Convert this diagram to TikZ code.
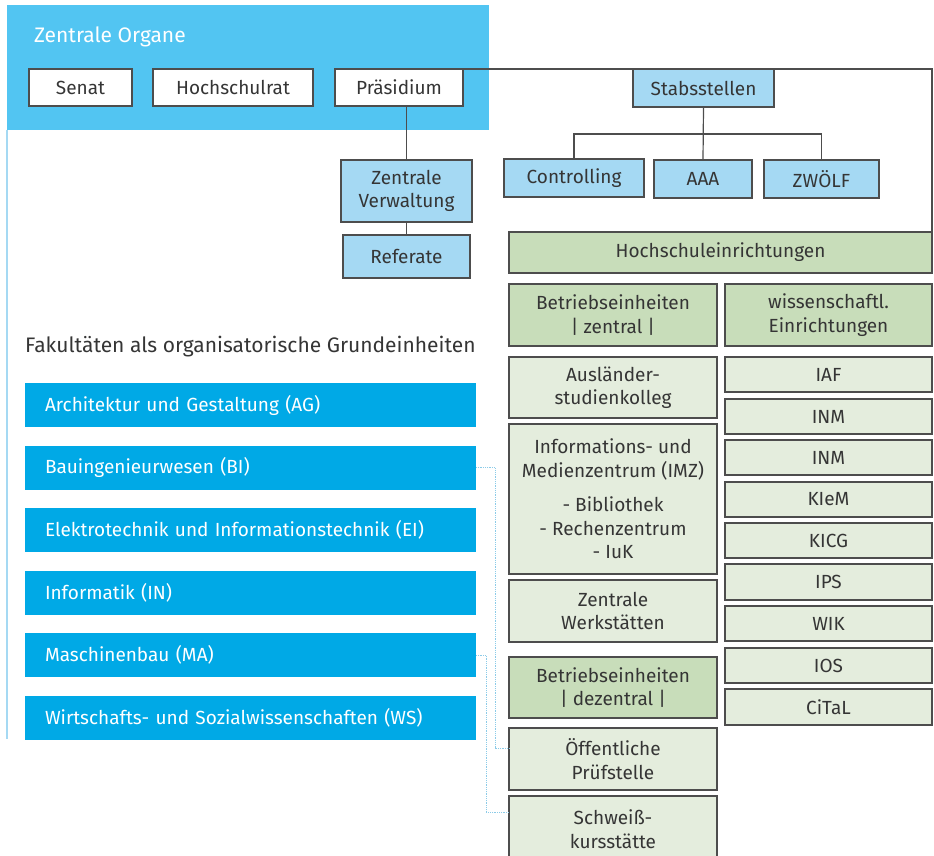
\documentclass[tikz,border=0pt]{standalone}
\usepackage{fontspec}
\setmainfont{Fira Sans}
\definecolor{panelblue}{HTML}{52C5F2}
\definecolor{facblue}{HTML}{00A9E6}
\definecolor{lightblue}{HTML}{A5D9F3}
\definecolor{greenhead}{HTML}{C8DDBA}
\definecolor{greenlight}{HTML}{E4EDDD}
\definecolor{bordergray}{HTML}{4D4D4D}
\definecolor{textgray}{HTML}{353535}
\definecolor{dotblue}{HTML}{8CCBE8}
\newcommand\bx[7]{\node[#6, minimum width={(#4-#2)*1pt}, minimum height={(#5-#3)*1pt}] (#1) at ({(#2+#4)/2},{(#3+#5)/2}) {#7};}
\tikzset{
  base/.style={rectangle, inner sep=0pt, outer sep=0pt, align=center, text=textgray, font=\fontsize{19}{23.5}\selectfont, line width=1.2pt, draw=bordergray},
  whitebox/.style={base, fill=white},
  bluebox/.style={base, fill=lightblue},
  headbox/.style={base, fill=greenhead},
  unitbox/.style={base, fill=greenlight},
  facbox/.style={rectangle, inner sep=0pt, outer sep=0pt, fill=facblue, text=white, font=\fontsize{19}{23}\selectfont},
  conn/.style={line width=1.2pt, draw=bordergray},
  dotconn/.style={line width=0.8pt, draw=dotblue, densely dotted}
}
\begin{document}
\begin{tikzpicture}[x=1pt,y=-1pt]
\useasboundingbox (0,0) rectangle (934,855);
\clip (0,0) rectangle (934,855);
% top panel
\fill[panelblue] (7,5) rectangle (489,130);
\node[anchor=west, text=white, font=\fontsize{21}{24}\selectfont, inner sep=0pt] (zo) at (34,37) {Zentrale Organe};
\draw[lightblue, line width=2pt] (7,130) -- (7,739);
% organs
\bx{senat}{29}{69}{132}{106}{whitebox}{Senat}
\bx{hsr}{153}{69}{313}{106}{whitebox}{Hochschulrat}
\bx{pras}{335}{69}{463}{106}{whitebox}{Präsidium}
\bx{zv}{341}{160}{472}{222}{bluebox}{Zentrale\\Verwaltung}
\bx{ref}{343}{235}{470}{278}{bluebox}{Referate}
% Stabsstellen
\bx{stab}{633}{69}{774}{107}{bluebox}{Stabsstellen}
\bx{ctrl}{504}{159}{644}{197}{bluebox}{Controlling}
\bx{aaa}{654}{160}{752}{198}{bluebox}{AAA}
\bx{zw}{764}{160}{879}{198}{bluebox}{ZWÖLF}
% Hochschuleinrichtungen
\bx{he}{509}{232}{932}{273}{headbox}{Hochschuleinrichtungen}
\bx{bez}{509}{284}{717}{346}{headbox}{Betriebseinheiten\\| zentral |}
\bx{we}{725}{284}{932}{346}{headbox}{wissenschaftl.\\Einrichtungen}
\bx{asl}{509}{357}{717}{418}{unitbox}{Ausländer-\\studienkolleg}
\bx{imz}{509}{424}{717}{574}{unitbox}{Informations- und\\Medienzentrum (IMZ)\\[11pt]- Bibliothek\\- Rechenzentrum\\- IuK}
\bx{zwk}{509}{580}{717}{642}{unitbox}{Zentrale\\Werkstätten}
\bx{bed}{509}{657}{717}{718}{headbox}{Betriebseinheiten\\| dezentral |}
\bx{op}{509}{728}{717}{790}{unitbox}{Öffentliche\\Prüfstelle}
\bx{sk}{509}{796}{717}{862}{unitbox}{Schweiß-\\kursstätte}
% wiss. Einrichtungen
\bx{iaf}{725}{357}{932}{392}{unitbox}{IAF}
\bx{inma}{725}{399}{932}{434}{unitbox}{INM}
\bx{inmb}{725}{440}{932}{475}{unitbox}{INM}
\bx{kiem}{725}{482}{932}{517}{unitbox}{KIeM}
\bx{kicg}{725}{523}{932}{558}{unitbox}{KICG}
\bx{ips}{725}{564}{932}{600}{unitbox}{IPS}
\bx{wik}{725}{606}{932}{641}{unitbox}{WIK}
\bx{ios}{725}{648}{932}{683}{unitbox}{IOS}
\bx{cital}{725}{689}{932}{725}{unitbox}{CiTaL}
% Fakultaeten
\node[anchor=west, text=textgray, font=\fontsize{21}{24}\selectfont, inner sep=0pt] (fak) at (25,347) {Fakultäten als organisatorische Grundeinheiten};
\tikzset{facnode/.style={facbox, minimum width=451pt, minimum height=44pt, anchor=west, text width=411pt, align=left}}
\node[facnode] (ag) at (25,405) {Architektur und Gestaltung (AG)};
\node[facnode] (bi) at (25,467.5) {Bauingenieurwesen (BI)};
\node[facnode] (ei) at (25,530) {Elektrotechnik und Informationstechnik (EI)};
\node[facnode] (in) at (25,592.5) {Informatik (IN)};
\node[facnode] (ma) at (25,655) {Maschinenbau (MA)};
\node[facnode] (ws) at (25,717.5) {Wirtschafts- und Sozialwissenschaften (WS)};
% connectors
\draw[conn] (pras.north east) -- (he.north east |- pras.north east) -- (he.north east);
\draw[conn] (stab.south) -- (aaa.north);
\coordinate (bar) at (0,134);
\draw[conn] (ctrl.north) -- (ctrl.north |- bar) -- (zw.north |- bar) -- (zw.north);
\draw[conn] (zv.north |- pras.south) -- (zv.north);
\draw[conn] (zv.south) -- (ref.north);
\coordinate (d1) at (495,748);
\coordinate (d2) at (486,812);
\draw[dotconn] (bi.east) -- (d1 |- bi.east) -- (d1) -- (op.west |- d1);
\draw[dotconn] (ma.east) -- (d2 |- ma.east) -- (d2) -- (sk.west |- d2);
\end{tikzpicture}
\end{document}
